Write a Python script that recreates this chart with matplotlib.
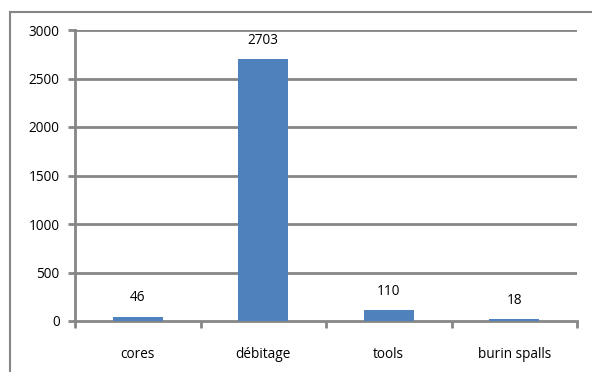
import matplotlib
matplotlib.use("Agg")
import matplotlib.pyplot as plt
from matplotlib.patches import Rectangle

categories = ["cores", "débitage", "tools", "burin spalls"]
values = [46, 2703, 110, 18]
yticks = [0, 500, 1000, 1500, 2000, 2500, 3000]

plt.rcParams['font.family'] = ['Open Sans', 'DejaVu Sans']
W, H = 592, 372
fig = plt.figure(figsize=(W/100, H/100), dpi=100)

# outer chart border
fig.add_artist(Rectangle((10/W, -0.05), 1.2, 1 - 12/H + 0.05, transform=fig.transFigure,
                         fill=False, edgecolor='#868686', linewidth=1.5))

fs = 9.8
ax = fig.add_axes([75/W, 1 - 321/H, (577-75)/W, (321-30)/H])
grid = '#868686'
x = list(range(len(categories)))
ax.bar(x, values, width=0.4, color='#4F81BD', zorder=3)
ax.set_xlim(-0.5, len(categories) - 0.5)
ax.set_ylim(0, 3000)
ax.set_yticks(yticks)
ax.set_yticklabels([str(t) for t in yticks], fontsize=fs)
for t in yticks[1:]:
    ax.axhline(t, color=grid, linewidth=2, zorder=1)
ax.set_xticks([i - 0.5 for i in range(len(categories) + 1)])
ax.set_xticklabels([])
ax.set_xticks(x, minor=True)
ax.set_xticklabels(categories, minor=True, fontsize=fs)
ax.tick_params(axis='x', which='minor', length=0, pad=19)
ax.tick_params(axis='x', which='major', length=5, width=2, color=grid, direction='out')
ax.tick_params(axis='y', length=5, width=2, color=grid, direction='out', pad=6)
for s in ['top', 'right']:
    ax.spines[s].set_visible(False)
for s in ['left', 'bottom']:
    ax.spines[s].set_color(grid)
    ax.spines[s].set_linewidth(2)
for xi, v in zip(x, values):
    ax.annotate(str(v), (xi, v), xytext=(0, 8), textcoords='offset points',
                ha='center', va='bottom', fontsize=fs)

fig.savefig("out.png", dpi=100)
